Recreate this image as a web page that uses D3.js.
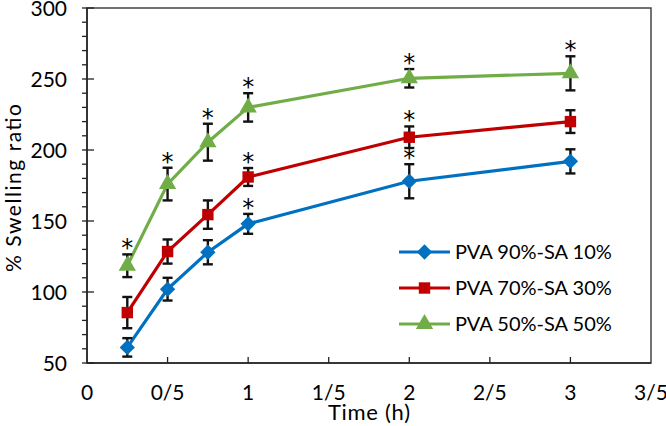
<!DOCTYPE html>
<html><head><meta charset="utf-8">
<script src="https://cdn.jsdelivr.net/npm/d3@7"></script>
<style>body{margin:0;background:#fff}svg{display:block}text{font-family:Lato,"Open Sans",sans-serif;fill:#000}text.star{font-family:"DejaVu Sans",sans-serif}</style>
</head><body><svg id="c" width="666" height="426"></svg>
<script>
const times = [0.25, 0.5, 0.75, 1, 2, 3];
const seriesNames = ["PVA 90%-SA 10%", "PVA 70%-SA 30%", "PVA 50%-SA 50%"];
const blueVals = [61, 102, 128, 148, 178, 192];
const blueErr = [6.5, 8, 8.5, 7, 12, 8.5];
const blueStar = [0, 0, 0, 1, 1, 0];
const redVals = [85.5, 128.5, 154.5, 181, 209, 220];
const redErr = [11, 8.5, 10, 6.3, 7.6, 8];
const redStar = [0, 0, 0, 1, 1, 0];
const greenVals = [118.5, 176, 205.5, 230, 250.5, 254];
const greenErr = [8, 11.5, 13, 10, 6.5, 12];
const greenStar = [1, 1, 1, 1, 1, 1];
const xTickVals = [0, 0.5, 1, 1.5, 2, 2.5, 3, 3.5];
const xTickLabels = ["0", "0/5", "1", "1/5", "2", "2/5", "3", "3/5"];
const yTickVals = [50, 100, 150, 200, 250, 300];

const colors = ["#0070C0", "#C00000", "#70AD47"];
const shapes = [d3.symbolDiamond2, d3.symbolSquare, d3.symbolTriangle];
const series = [
  {name: seriesNames[0], vals: blueVals, err: blueErr, star: blueStar},
  {name: seriesNames[1], vals: redVals, err: redErr, star: redStar},
  {name: seriesNames[2], vals: greenVals, err: greenErr, star: greenStar}
];

const svg = d3.select("#c");
const L = 87, R = 651, T = 8, B = 363;
const x = d3.scaleLinear().domain([0, 3.5]).range([L, R]);
const y = d3.scaleLinear().domain([50, 300]).range([B, T]);

svg.append("rect").attr("x", L).attr("y", T).attr("width", R - L).attr("height", B - T)
  .attr("fill", "none").attr("stroke", "#444").attr("stroke-width", 1.5);

const yMinor = d3.range(50, 301, 10);
svg.append("g").selectAll("line").data(yMinor).join("line")
  .attr("x1", L - 5).attr("x2", d => d % 50 === 0 ? L + 7 : L)
  .attr("y1", d => y(d)).attr("y2", d => y(d))
  .attr("stroke", "#222").attr("stroke-width", 1.3);
svg.append("g").selectAll("text").data(yTickVals).join("text")
  .attr("x", L - 20).attr("y", d => y(d) + 7.5).attr("text-anchor", "end")
  .attr("font-size", 21).text(d => d);

svg.append("line").attr("x1", L).attr("x2", R).attr("y1", B).attr("y2", B).attr("stroke", "#222").attr("stroke-width", 1.5);
svg.append("line").attr("x1", L).attr("x2", L).attr("y1", T).attr("y2", B).attr("stroke", "#222").attr("stroke-width", 1.5);
svg.append("g").selectAll("line").data(xTickVals.slice(1, -1)).join("line")
  .attr("x1", d => x(d)).attr("x2", d => x(d)).attr("y1", B).attr("y2", B - 6)
  .attr("stroke", "#222").attr("stroke-width", 1.3);
svg.append("g").selectAll("text").data(xTickVals).join("text")
  .attr("x", d => x(d)).attr("y", 400).attr("text-anchor", "middle")
  .attr("font-size", 21).text((d, i) => xTickLabels[i]);

svg.append("text").attr("x", 369).attr("y", 420).attr("text-anchor", "middle")
  .attr("font-size", 22).attr("textLength", 82).attr("lengthAdjust", "spacing").text("Time (h)");
svg.append("text").attr("transform", "translate(21,188) rotate(-90)")
  .attr("text-anchor", "middle").attr("font-size", 21)
  .attr("textLength", 168).attr("lengthAdjust", "spacing").text("% Swelling ratio");

const line = d3.line().x(d => x(d[0])).y(d => y(d[1]));
series.forEach((s, si) => {
  const pts = times.map((t, i) => [t, s.vals[i]]);
  svg.append("path").datum(pts).attr("d", line).attr("fill", "none")
    .attr("stroke", colors[si]).attr("stroke-width", 3.2);
});
const symSize = [150, 130, 130];
series.forEach((s, si) => {
  const g = svg.append("g");
  times.forEach((t, i) => {
    const cx = x(t), v = s.vals[i], e = s.err[i];
    g.append("line").attr("x1", cx).attr("x2", cx).attr("y1", y(v + e)).attr("y2", y(v - e))
      .attr("stroke", "#111").attr("stroke-width", 2.4);
    [v + e, v - e].forEach(w => g.append("line").attr("x1", cx - 5).attr("x2", cx + 5)
      .attr("y1", y(w)).attr("y2", y(w)).attr("stroke", "#111").attr("stroke-width", 2.4));
    g.append("path").attr("d", d3.symbol().type(shapes[si]).size(symSize[si])())
      .attr("transform", `translate(${cx},${y(v)})`).attr("fill", colors[si]);
    if (s.star[i]) {
      g.append("text").attr("class", "star").attr("x", cx).attr("y", y(v + e) + 2).attr("text-anchor", "middle")
        .attr("font-size", 24).text("*");
    }
  });
});

const legY = [252, 288, 324];
series.forEach((s, si) => {
  const g = svg.append("g");
  g.append("line").attr("x1", 399).attr("x2", 450).attr("y1", legY[si]).attr("y2", legY[si])
    .attr("stroke", colors[si]).attr("stroke-width", 3.2);
  g.append("path").attr("d", d3.symbol().type(shapes[si]).size(symSize[si])())
    .attr("transform", `translate(424.5,${legY[si]})`).attr("fill", colors[si]);
  g.append("text").attr("x", 455).attr("y", legY[si] + 7).attr("font-size", 20).text(s.name);
});
</script></body></html>
